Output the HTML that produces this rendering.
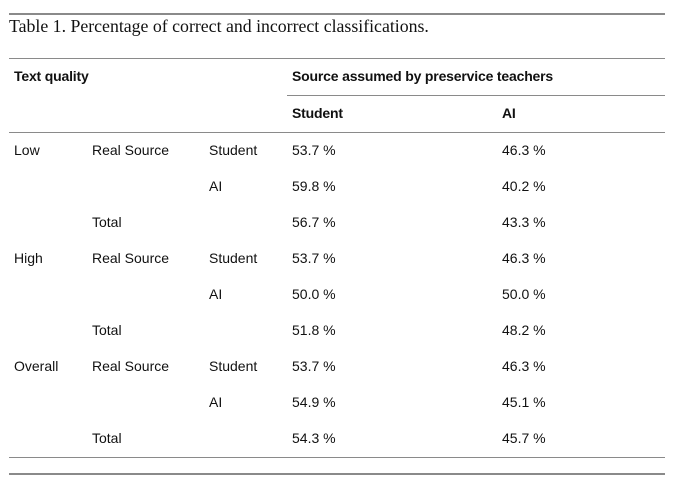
<!DOCTYPE html>
<html><head><meta charset="utf-8"><style>
html,body{margin:0;padding:0;background:#fff;}
body{width:676px;height:486px;position:relative;overflow:hidden;font-family:"Liberation Sans",sans-serif;color:#111;}
.t{position:absolute;font-size:14px;line-height:14px;white-space:nowrap;}
.b{font-weight:bold;letter-spacing:-0.18px;}
.r{position:absolute;left:9px;width:656px;background:#8a8a8a;height:1px;}
.title{position:absolute;left:9px;top:18px;font-family:"Liberation Serif",serif;font-size:17.8px;line-height:17.8px;white-space:nowrap;color:#111;}
</style></head><body>
<div class="r" style="top:13px;height:2px"></div>
<div class="title">Table 1. Percentage of correct and incorrect classifications.</div>
<div class="r" style="top:58px"></div>
<div class="t b" style="left:14px;top:69px">Text quality</div>
<div class="t b" style="left:292px;top:69px">Source assumed by preservice teachers</div>
<div class="r" style="top:95px;left:287px;width:378px"></div>
<div class="t b" style="left:292px;top:106px">Student</div>
<div class="t b" style="left:502px;top:106px">AI</div>
<div class="r" style="top:132px"></div>

<div class="t" style="left:14px;top:143px">Low</div>
<div class="t" style="left:92px;top:143px">Real Source</div>
<div class="t" style="left:209px;top:143px">Student</div>
<div class="t" style="left:292px;top:143px">53.7 %</div>
<div class="t" style="left:502px;top:143px">46.3 %</div>

<div class="t" style="left:209px;top:179px">AI</div>
<div class="t" style="left:292px;top:179px">59.8 %</div>
<div class="t" style="left:502px;top:179px">40.2 %</div>

<div class="t" style="left:92px;top:215px">Total</div>
<div class="t" style="left:292px;top:215px">56.7 %</div>
<div class="t" style="left:502px;top:215px">43.3 %</div>

<div class="t" style="left:14px;top:251px">High</div>
<div class="t" style="left:92px;top:251px">Real Source</div>
<div class="t" style="left:209px;top:251px">Student</div>
<div class="t" style="left:292px;top:251px">53.7 %</div>
<div class="t" style="left:502px;top:251px">46.3 %</div>

<div class="t" style="left:209px;top:287px">AI</div>
<div class="t" style="left:292px;top:287px">50.0 %</div>
<div class="t" style="left:502px;top:287px">50.0 %</div>

<div class="t" style="left:92px;top:323px">Total</div>
<div class="t" style="left:292px;top:323px">51.8 %</div>
<div class="t" style="left:502px;top:323px">48.2 %</div>

<div class="t" style="left:14px;top:359px">Overall</div>
<div class="t" style="left:92px;top:359px">Real Source</div>
<div class="t" style="left:209px;top:359px">Student</div>
<div class="t" style="left:292px;top:359px">53.7 %</div>
<div class="t" style="left:502px;top:359px">46.3 %</div>

<div class="t" style="left:209px;top:395px">AI</div>
<div class="t" style="left:292px;top:395px">54.9 %</div>
<div class="t" style="left:502px;top:395px">45.1 %</div>

<div class="t" style="left:92px;top:431px">Total</div>
<div class="t" style="left:292px;top:431px">54.3 %</div>
<div class="t" style="left:502px;top:431px">45.7 %</div>

<div class="r" style="top:457px"></div>
<div class="r" style="top:473px;height:2px"></div>
</body></html>
